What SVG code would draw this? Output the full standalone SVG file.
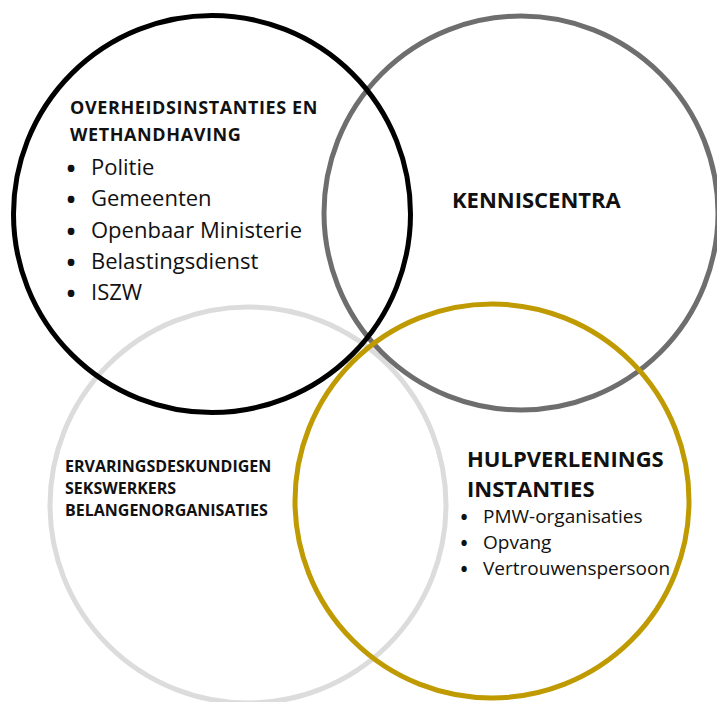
<svg xmlns="http://www.w3.org/2000/svg" width="717" height="702" viewBox="0 0 717 702">
<style>
.c{fill:none;stroke-width:5}
.h{font-family:"Open Sans","Liberation Sans",sans-serif;font-weight:700;fill:#111}
.t{font-family:"Open Sans","Liberation Sans",sans-serif;font-weight:400;fill:#111}
.b{font-family:"Open Sans","Liberation Sans",sans-serif;font-weight:700;fill:#111;text-anchor:middle}
</style>
<rect width="717" height="702" fill="#fff"/>
<g id="circle-ervaringsdeskundigen">
<circle class="c" cx="248" cy="505" r="198" stroke="#dcdcdc"/>
</g>
<g id="circle-kenniscentra">
<circle class="c" cx="521" cy="213" r="197" stroke="#6e6e6e"/>
</g>
<g id="circle-overheid">
<circle class="c" cx="212" cy="214" r="198.5" stroke="#000"/>
</g>
<g id="circle-hulpverlening">
<circle class="c" cx="492" cy="501" r="197" stroke="#bf9a00"/>
</g>
<g id="label-overheid">
<text class="h" x="70" y="114" font-size="18" letter-spacing="0.6">OVERHEIDSINSTANTIES EN</text>
<text class="h" x="70" y="141" font-size="18" letter-spacing="0.6">WETHANDHAVING</text>
<g font-size="24">
<text class="b" x="71" y="177">•</text>
<text class="b" x="71" y="208">•</text>
<text class="b" x="71" y="240">•</text>
<text class="b" x="71" y="271">•</text>
<text class="b" x="71" y="302">•</text>
</g>
<g class="t" font-size="22">
<text x="91" y="175">Politie</text>
<text x="91" y="206">Gemeenten</text>
<text x="91" y="238">Openbaar Ministerie</text>
<text x="91" y="269">Belastingsdienst</text>
<text x="91" y="300">ISZW</text>
</g>
</g>
<g id="label-kenniscentra">
<text class="h" x="452" y="208" font-size="22">KENNISCENTRA</text>
</g>
<g id="label-ervaringsdeskundigen">
<text class="h" x="65" y="472" font-size="16">ERVARINGSDESKUNDIGEN</text>
<text class="h" x="65" y="494" font-size="16">SEKSWERKERS</text>
<text class="h" x="65" y="516" font-size="16">BELANGENORGANISATIES</text>
</g>
<g id="label-hulpverlening">
<text class="h" x="467" y="467" font-size="22">HULPVERLENINGS</text>
<text class="h" x="467" y="497" font-size="22">INSTANTIES</text>
<g font-size="19">
<text class="b" x="464" y="524">•</text>
<text class="b" x="464" y="550">•</text>
<text class="b" x="464" y="576">•</text>
</g>
<g class="t" font-size="19">
<text x="483" y="523">PMW-organisaties</text>
<text x="483" y="549">Opvang</text>
<text x="483" y="575">Vertrouwenspersoon</text>
</g>
</g>
</svg>
